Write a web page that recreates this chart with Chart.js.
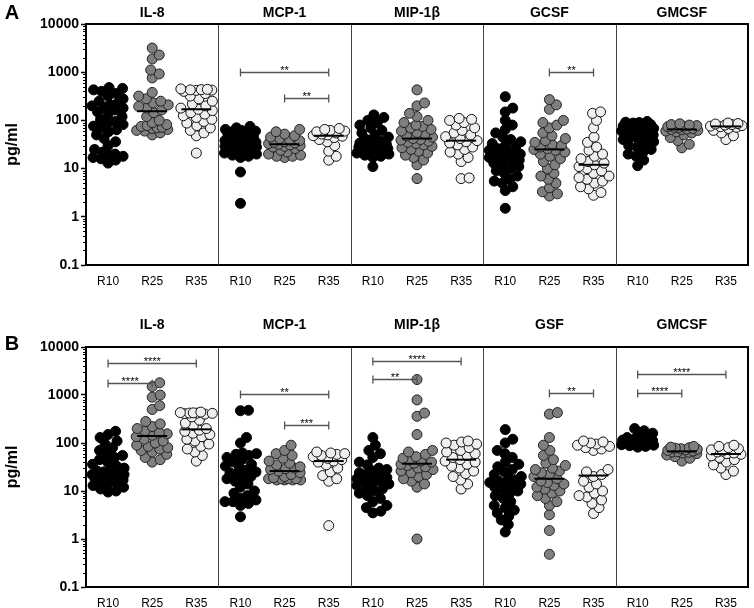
<!DOCTYPE html>
<html>
<head>
<meta charset="utf-8">
<script src="https://cdn.jsdelivr.net/npm/chart.js@4.4.1/dist/chart.umd.min.js"></script>
<style>
  body { margin: 0; background: #fff; }
  canvas { display: block; }
</style>
</head>
<body>
<canvas id="chartA" width="754" height="300"></canvas>
<canvas id="chartB" width="754" height="308"></canvas>
<script>
const groups = ["R10", "R25", "R35"];
const cytokinesA = ["IL-8", "MCP-1", "MIP-1β", "GCSF", "GMCSF"];
const cytokinesB = ["IL-8", "MCP-1", "MIP-1β", "GSF", "GMCSF"];
const yTicks = [0.1, 1, 10, 100, 1000, 10000];

// panel A (pg/ml)
const aIL8R10 = [13,15,16,17,18,19,20,22,25,30,36,42,50,58,64,70,76,82,88,95,105,120,135,150,165,180,190,200,210,220,250,280,320,360,400,430,460,480];
const aIL8R25 = [50,55,60,62,65,68,70,72,75,78,82,90,100,120,145,165,180,195,210,230,250,280,320,380,760,920,1110,1880,2280,3170];
const aIL8R35 = [21,48,55,62,70,78,88,95,105,115,125,135,145,160,170,180,200,220,250,280,320,360,400,420,425,430,435,440,450];
const aMCPR10 = [1.9,8.5,17,18,19,20,21,22,23,25,26,28,29,30,31,32,33,34,35,36,38,40,42,44,46,48,50,52,55,58,60,62,65,70,75];
const aMCPR25 = [17,18,18,19,20,22,24,26,28,29,30,31,32,33,34,35,36,38,40,42,45,48,52,58,65];
const aMCPR35 = [15,18,23,30,36,40,44,47,48,50,52,55,58,60,62,65,68];
const aMIPR10 = [11,17,18,19,20,21,22,23,24,25,26,27,28,29,30,30,31,32,33,34,35,37,40,45,50,55,62,70,80,90,100,115,130];
const aMIPR25 = [6.2,12,15,17,19,21,23,25,27,29,31,33,35,37,39,40,42,45,48,52,56,60,65,70,75,80,90,100,120,140,200,230,430];
const aMIPR35 = [6.2,6.4,14,17,20,22,25,28,31,34,36,38,42,46,50,55,62,70,80,90,100,105,110];
const aGCSFR10 = [1.5,3.5,4.2,5,5.5,6,7,8,9,10,11,12,13,14,15,16,17,18,18,19,20,21,22,24,26,28,30,33,36,40,45,55,65,80,100,150,180,310];
const aGCSFR25 = [2.7,3,3.3,4,5,6,7,8,10,12,14,16,18,20,22,24,25,26,28,30,32,35,38,42,48,55,70,80,90,100,170,210,270];
const aGCSFR35 = [2.8,3.2,3.8,4.2,5,5.5,6,6.5,7,8,9,10,11,12,13,14,16,18,20,24,28,35,45,70,100,140,150];
const aGMR10 = [11.5,15,18,20,22,25,28,30,33,36,40,42,45,48,50,52,54,55,57,59,60,62,64,66,68,70,72,74,76,78,80,82,85,88,90,92,95];
const aGMR25 = [27,32,38,44,50,55,58,60,62,64,65,66,68,70,72,74,76,78,80,82,85];
const aGMR35 = [40,48,55,62,68,72,74,76,78,80,82,84,86,88];

// panel B (pg/ml)
const bIL8R10 = [9.5,10,11,12,13,14,15,16,17,18,19,20,20,21,22,22,23,23,24,25,26,28,30,33,36,40,45,50,55,60,70,80,95,110,130,150,175];
const bIL8R25 = [40,45,50,58,65,70,75,80,85,90,100,110,120,135,145,155,165,180,200,220,250,280,500,600,900,1000,1500,1800];
const bIL8R35 = [42,55,65,75,85,95,110,120,135,150,160,175,185,200,230,260,300,350,400,410,415,420,420,425,430,440];
const bMCPR10 = [2.9,5,5.5,6,6,6.5,7,8,9,10,12,14,16,18,19,20,22,24,25,27,30,33,36,40,45,50,55,58,60,62,100,130,470,480];
const bMCPR25 = [17,17,17,17,18,18,18,18,19,20,22,24,26,28,29,30,32,35,38,42,48,55,60,70,90];
const bMCPR35 = [1.9,16,18,21,25,30,35,40,42,45,48,52,55,58,60,62,65];
const bMIPR10 = [3.5,3.8,4.5,5,6,7,8,9,10,11,12,13,14,15,16,17,18,18,19,20,21,22,24,26,28,30,35,40,50,60,70,90,130];
const bMIPR25 = [1.0,12,14,16,18,20,22,24,26,28,30,32,34,36,38,40,42,45,48,52,58,65,70,150,360,420,790,2100];
const bMIPR35 = [11,14,17,20,23,26,30,33,36,40,42,45,50,55,60,65,70,80,90,95,100,105,110];
const bGSFR10 = [1.4,2,2.5,3,3.5,4,4.5,5,6,7,8,9,10,11,12,13,14,15,15,16,17,18,20,22,25,28,32,36,40,50,60,70,100,120,190];
const bGSFR25 = [0.48,1.5,3.2,5,6,7,8,9,10,11,12,13,14,15,16,18,20,22,24,26,28,30,34,38,45,55,70,90,130,400,430];
const bGSFR35 = [3.4,4.5,5.5,6.5,7.5,8,9,10,12,14,16,20,22,25,28,70,75,80,85,90,95,100,105,110];
const bGMR10 = [82,85,88,90,92,95,98,100,102,105,108,110,112,115,118,120,125,130,140,160,180,200];
const bGMR25 = [42,48,52,56,60,62,64,65,66,68,70,72,74,76,78,80,82,85];
const bGMR35 = [22,26,30,35,40,45,50,54,58,60,62,65,68,72,76,80,85,90];

// significance: [panel, from group, to group, height (pg/ml), label]
const bracketsA = [[1,0,2,1000,"**"], [1,1,2,290,"**"], [3,1,2,1000,"**"]];
const bracketsB = [[0,0,2,4600,"****"], [0,0,1,1750,"****"], [1,0,2,1030,"**"], [1,1,2,240,"***"],
  [2,0,2,5200,"****"], [2,0,1,2150,"**"], [3,1,2,1085,"**"], [4,0,2,2740,"****"], [4,0,1,1115,"****"]];

const panelA = [[aIL8R10,aIL8R25,aIL8R35],[aMCPR10,aMCPR25,aMCPR35],[aMIPR10,aMIPR25,aMIPR35],[aGCSFR10,aGCSFR25,aGCSFR35],[aGMR10,aGMR25,aGMR35]];
const panelB = [[bIL8R10,bIL8R25,bIL8R35],[bMCPR10,bMCPR25,bMCPR35],[bMIPR10,bMIPR25,bMIPR35],[bGSFR10,bGSFR25,bGSFR35],[bGMR10,bGMR25,bGMR35]];

const FONT = 'Arial, "Liberation Sans", sans-serif';
const fills = ["#000000", "#7f7f7f", "#efefef"];
const strokes = ["#000000", "#222222", "#111111"];
const MIN_D = 8;   // wanted spacing between dot centres, px
const MAX_W = 16;  // max sideways spread from group centre, px

function median(arr) {
  const s = [...arr].sort((a, b) => a - b);
  const m = Math.floor(s.length / 2);
  return s.length % 2 ? s[m] : (s[m - 1] + s[m]) / 2;
}

function buildDatasets(panel) {
  const out = [];
  panel.forEach((grp, p) => {
    grp.forEach((vals, g) => {
      const cx = p * 3 + g + 0.5;
      out.push({
        type: "scatter", raw: vals, cx: cx,
        data: vals.map(v => ({ x: cx, y: v })),
        pointRadius: 5, pointHoverRadius: 5, borderWidth: 1,
        backgroundColor: fills[g], borderColor: strokes[g], order: 2
      });
      const med = median(vals);
      out.push({
        type: "line", data: [{ x: cx - 0.34, y: med }, { x: cx + 0.34, y: med }],
        borderColor: "#000", borderWidth: 2, pointRadius: 0, order: 1
      });
    });
  });
  return out;
}

// spread points sideways (within MAX_W), overlapping when the column is full
function swarm(chart) {
  const xs = chart.scales.x, ys = chart.scales.y;
  const offs = [0];
  for (let o = 0.5; o <= MAX_W; o += 0.5) offs.push(o, -o);
  chart.data.datasets.forEach(ds => {
    if (!ds.raw) return;
    const cpx = xs.getPixelForValue(ds.cx);
    const placed = [];
    const idx = ds.raw.map((v, i) => i).sort((a, b) => ds.raw[a] - ds.raw[b]);
    const pts = new Array(ds.raw.length);
    idx.forEach(i => {
      const py = ys.getPixelForValue(ds.raw[i]);
      let best = cpx, bestD = -1;
      for (const o of offs) {
        const c = cpx + o;
        let d = Infinity;
        placed.forEach(q => { d = Math.min(d, Math.hypot(q[0] - c, q[1] - py)); });
        if (d >= MIN_D) { best = c; bestD = d; break; }
        if (d > bestD + 0.5) { best = c; bestD = d; }
      }
      placed.push([best, py]);
      pts[i] = { x: xs.getValueForPixel(best), y: ds.raw[i] };
    });
    ds.data = pts;
  });
  chart.update("none");
}

function decorPlugin(cfg) {
  return {
    id: "decor",
    beforeDatasetsDraw(chart) {
      const { ctx, chartArea: a, scales: { x } } = chart;
      ctx.save();
      ctx.strokeStyle = "#444";
      ctx.lineWidth = 1;
      [3, 6, 9, 12].forEach(v => {
        const px = Math.round(x.getPixelForValue(v)) + 0.5;
        ctx.beginPath(); ctx.moveTo(px, a.top); ctx.lineTo(px, a.bottom); ctx.stroke();
      });
      ctx.restore();
    },
    afterDraw(chart) {
      const { ctx, chartArea: a, scales: { x, y } } = chart;
      ctx.save();
      // top and right frame
      ctx.strokeStyle = "#000";
      ctx.lineWidth = 2;
      ctx.beginPath();
      ctx.moveTo(a.left, a.top); ctx.lineTo(a.right, a.top); ctx.lineTo(a.right, a.bottom);
      ctx.stroke();
      // minor log ticks
      ctx.lineWidth = 1;
      for (let d = 0.1; d < 10000; d *= 10) {
        for (let m = 2; m < 10; m++) {
          const py = Math.round(y.getPixelForValue(d * m)) + 0.5;
          ctx.beginPath(); ctx.moveTo(a.left - 3, py); ctx.lineTo(a.left, py); ctx.stroke();
        }
      }
      // panel titles
      ctx.fillStyle = "#000";
      ctx.textAlign = "center";
      ctx.textBaseline = "middle";
      ctx.font = "bold 14px " + FONT;
      cfg.names.forEach((n, p) => ctx.fillText(n, x.getPixelForValue(p * 3 + 1.5), cfg.titleY));
      ctx.font = "bold 20px " + FONT;
      ctx.fillText(cfg.letter, 12, cfg.letterY);
      // significance brackets
      cfg.brackets.forEach(([p, g1, g2, v, lab]) => {
        const x1 = x.getPixelForValue(p * 3 + g1 + 0.5);
        const x2 = x.getPixelForValue(p * 3 + g2 + 0.5);
        const py = Math.round(y.getPixelForValue(v)) + 0.5;
        ctx.strokeStyle = "#555";
        ctx.lineWidth = 1.3;
        ctx.beginPath();
        ctx.moveTo(x1, py); ctx.lineTo(x2, py);
        ctx.moveTo(x1, py - 4); ctx.lineTo(x1, py + 4);
        ctx.moveTo(x2, py - 4); ctx.lineTo(x2, py + 4);
        ctx.stroke();
        ctx.font = "11px " + FONT;
        ctx.textBaseline = "alphabetic";
        ctx.fillText(lab, (x1 + x2) / 2, py + 1);
      });
      ctx.restore();
    }
  };
}

function makeChart(id, panel, cfg) {
  const centers = [];
  for (let i = 0; i < 15; i++) centers.push(i + 0.5);
  const chart = new Chart(document.getElementById(id), {
    type: "scatter",
    data: { datasets: buildDatasets(panel) },
    options: {
      responsive: false,
      animation: false,
      events: [],
      layout: { padding: { top: cfg.padTop, bottom: cfg.padBottom, left: 0, right: 4 } },
      plugins: { legend: { display: false }, tooltip: { enabled: false } },
      scales: {
        x: {
          type: "linear", min: 0, max: 15,
          afterBuildTicks: s => { s.ticks = centers.map(v => ({ value: v })); },
          afterFit: s => { s.height = 21; },
          ticks: {
            callback: v => groups[Math.floor(v) % 3],
            autoSkip: false, maxRotation: 0, padding: 9,
            color: "#000", font: { family: FONT, size: 12 }
          },
          grid: { display: true, drawOnChartArea: false, drawTicks: false },
          border: { color: "#000", width: 2 }
        },
        y: {
          type: "logarithmic", min: 0.1, max: 10000,
          afterBuildTicks: s => { s.ticks = yTicks.map(v => ({ value: v, major: true })); },
          afterFit: s => { s.width = 86; },
          ticks: {
            callback: v => String(v),
            autoSkip: false, padding: 2,
            color: "#000", font: { family: FONT, size: 14, weight: "bold" }
          },
          grid: { drawOnChartArea: false, drawTicks: true, tickLength: 5, tickColor: "#000", tickWidth: 1.5 },
          border: { color: "#000", width: 2 },
          title: {
            display: true, text: "pg/ml", color: "#000",
            padding: { top: 3, bottom: 0 },
            font: { family: FONT, size: 16, weight: "bold" }
          }
        }
      }
    },
    plugins: [decorPlugin(cfg)]
  });
  swarm(chart);
  return chart;
}

makeChart("chartA", panelA, { names: cytokinesA, brackets: bracketsA, letter: "A", letterY: 13, titleY: 13, padTop: 24, padBottom: 14 });
makeChart("chartB", panelB, { names: cytokinesB, brackets: bracketsB, letter: "B", letterY: 44, titleY: 25, padTop: 47, padBottom: 0 });
</script>
</body>
</html>
